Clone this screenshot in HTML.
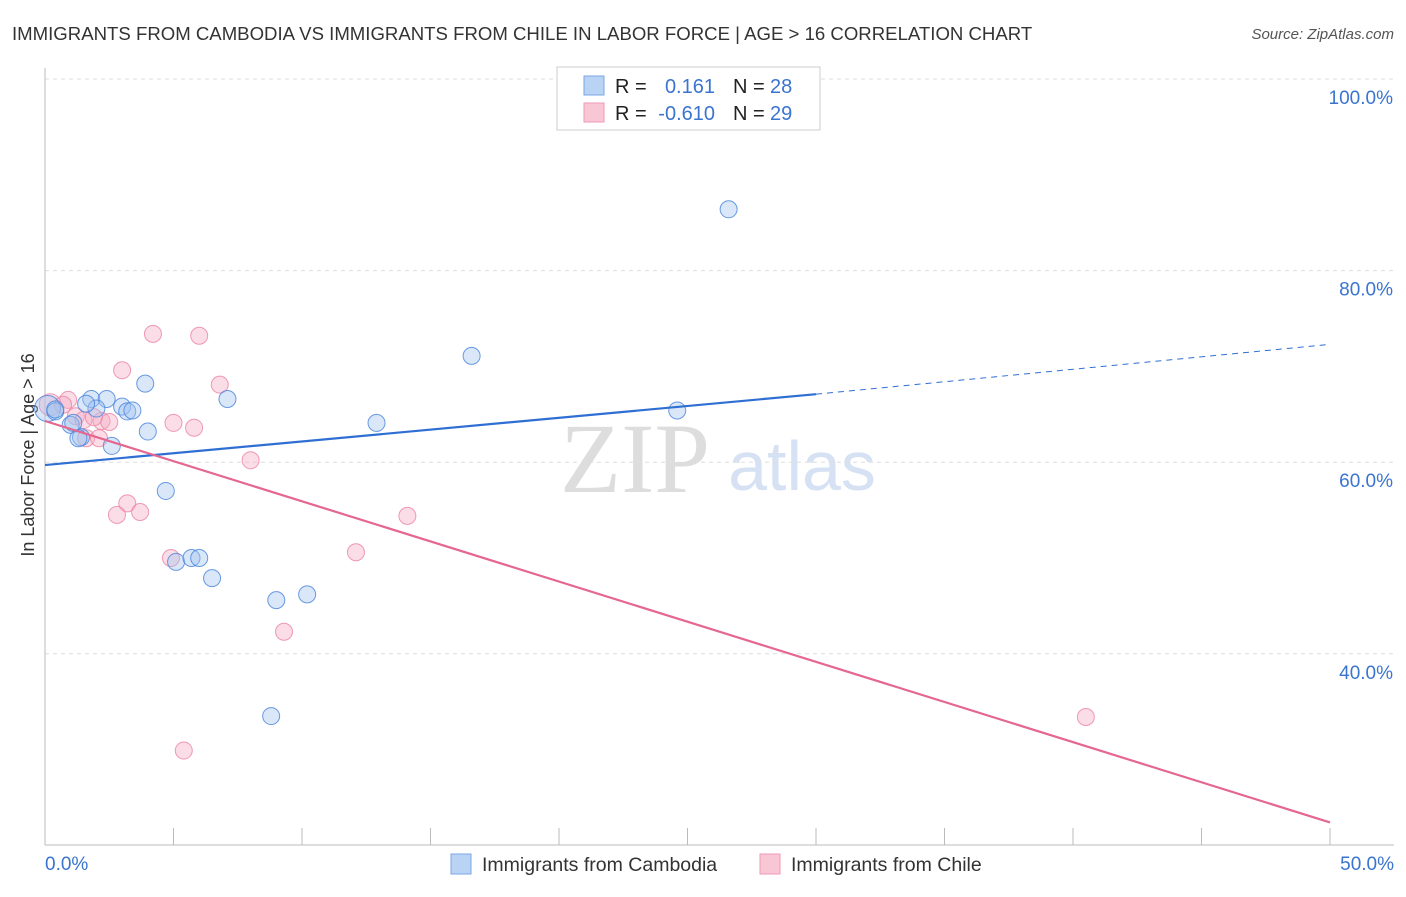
<!DOCTYPE html>
<html><head><meta charset="utf-8"><style>
body{margin:0;background:#fff;font-family:"Liberation Sans",sans-serif}
svg text{font-family:"Liberation Sans",sans-serif}
svg text.serif{font-family:"Liberation Serif",serif}
</style></head><body>
<svg id="c" width="1406" height="892">
<text x="12" y="40" font-size="18.6" fill="#333">IMMIGRANTS FROM CAMBODIA VS IMMIGRANTS FROM CHILE IN LABOR FORCE | AGE &gt; 16 CORRELATION CHART</text>
<text x="1394" y="39" font-size="15" fill="#555" font-style="italic" text-anchor="end">Source: ZipAtlas.com</text>
<text class="serif" x="635" y="492" font-size="100" fill="#ddd" text-anchor="middle">ZIP</text>
<text x="802" y="490" font-size="70" fill="#d6e2f3" text-anchor="middle">atlas</text>
<text transform="translate(34,455) rotate(-90)" font-size="18" fill="#333" text-anchor="middle">In Labor Force | Age &gt; 16</text>
<g id="grid"></g><g id="marks"></g>
<g>
<rect x="557" y="67" width="263" height="63" fill="#fff" stroke="#ccc"/>
<rect x="584" y="76" width="20" height="19" fill="#b9d3f5" stroke="#7aa6e6"/>
<rect x="584" y="103" width="20" height="19" fill="#f9c6d5" stroke="#ee9ab3"/>
<text x="615" y="93" font-size="20" fill="#222">R =</text><text x="715" y="93" font-size="20" fill="#3a74d0" text-anchor="end">0.161</text>
<text x="733" y="93" font-size="20" fill="#222">N =</text><text x="770" y="93" font-size="20" fill="#3a74d0">28</text>
<text x="615" y="120" font-size="20" fill="#222">R =</text><text x="715" y="120" font-size="20" fill="#3a74d0" text-anchor="end">-0.610</text>
<text x="733" y="120" font-size="20" fill="#222">N =</text><text x="770" y="120" font-size="20" fill="#3a74d0">29</text>
</g>
<g>
<rect x="451" y="854" width="20" height="20" fill="#b9d3f5" stroke="#7aa6e6"/>
<text x="482" y="871" font-size="19.5" fill="#333">Immigrants from Cambodia</text>
<rect x="760" y="854" width="20" height="20" fill="#f9c6d5" stroke="#ee9ab3"/>
<text x="791" y="871" font-size="19.5" fill="#333">Immigrants from Chile</text>
</g>
</svg>
<script>
const yTicks=[40,60,80,100];
const xTickLabels=["0.0%","50.0%"];
const cambodiaX=[0.1,0.4,1.0,1.4,1.8,2.4,2.0,1.6,3.0,3.2,3.4,3.9,4.0,1.3,1.1,0.4,2.6,7.1,4.7,5.1,5.7,6.0,6.5,9.0,10.2,8.8,12.9,16.6,24.6,26.6];
const cambodiaY=[65.6,65.3,63.9,62.6,66.6,66.6,65.6,66.1,65.8,65.3,65.4,68.2,63.2,62.5,64.1,65.5,61.7,66.6,57.0,49.6,50.0,50.0,47.9,45.6,46.2,33.5,64.1,71.1,65.4,86.4];
const chileX=[0.2,4.2,6.0,3.0,6.8,0.9,0.7,1.2,1.5,2.2,2.5,1.6,2.1,5.0,5.8,8.0,3.2,2.8,3.7,4.9,12.1,14.1,9.3,5.4,40.5,1.9];
const chileY=[66.0,73.4,73.2,69.6,68.1,66.5,66.0,64.8,64.4,64.3,64.2,62.5,62.5,64.1,63.6,60.2,55.7,54.5,54.8,50.0,50.6,54.4,42.3,29.9,33.4,64.7];
const trendBlue=[59.7,67.1,72.3];const trendPink=[64.3,22.4];
const X=v=>45+v*25.7, Y=v=>79+(100-v)*9.58;
const ns="http://www.w3.org/2000/svg";
function mk(t,a,p){const e=document.createElementNS(ns,t);for(const k in a)e.setAttribute(k,a[k]);p.appendChild(e);return e;}
const g=document.getElementById('grid'),m=document.getElementById('marks');
yTicks.forEach(v=>{const l=mk('line',{x1:45,x2:1394,y1:Y(v),y2:Y(v),stroke:'#ddd','stroke-dasharray':'4,4'},g);


const t=mk('text',{x:1393,y:Y(v)+25,'font-size':19,fill:'#3a74d0','text-anchor':'end'},g);t.textContent=v.toFixed(1)+'%';

});
mk('line',{x1:45,x2:45,y1:68,y2:845,stroke:'#bbb'},g);
mk('line',{x1:45,x2:1394,y1:845,y2:845,stroke:'#bbb'},g);
for(let i=0;i<=10;i++){mk('line',{x1:X(i*5),x2:X(i*5),y1:828,y2:845,stroke:'#bbb'},g);}
xTickLabels.forEach((s,i)=>{const t=mk('text',{x:i?1394:45,y:870,'font-size':19,fill:'#3a74d0','text-anchor':i?'end':'start'},g);t.textContent=s;

});
chileX.forEach((x,i)=>{const c=mk('circle',{cx:X(x),cy:Y(chileY[i]),r:i==0?11:8.5,fill:'rgba(246,170,194,0.4)',stroke:'rgba(236,130,162,0.8)','stroke-width':1},m);

});
cambodiaX.forEach((x,i)=>{const c=mk('circle',{cx:X(x),cy:Y(cambodiaY[i]),r:i==0?13:8.5,fill:'rgba(160,195,240,0.4)',stroke:'rgba(70,130,220,0.8)','stroke-width':1},m);

});
const bl=mk('line',{x1:X(0),y1:Y(trendBlue[0]),x2:X(30),y2:Y(trendBlue[1]),stroke:'#2f6fd4','stroke-width':2.2},m);


const bd=mk('line',{x1:X(30),y1:Y(trendBlue[1]),x2:X(50),y2:Y(trendBlue[2]),stroke:'#2f6fd4','stroke-width':1,'stroke-dasharray':'6,5'},m);


const pl=mk('line',{x1:X(0),y1:Y(trendPink[0]),x2:X(50),y2:Y(trendPink[1]),stroke:'#e5678f','stroke-width':2.2},m);


</script>
</body></html>
